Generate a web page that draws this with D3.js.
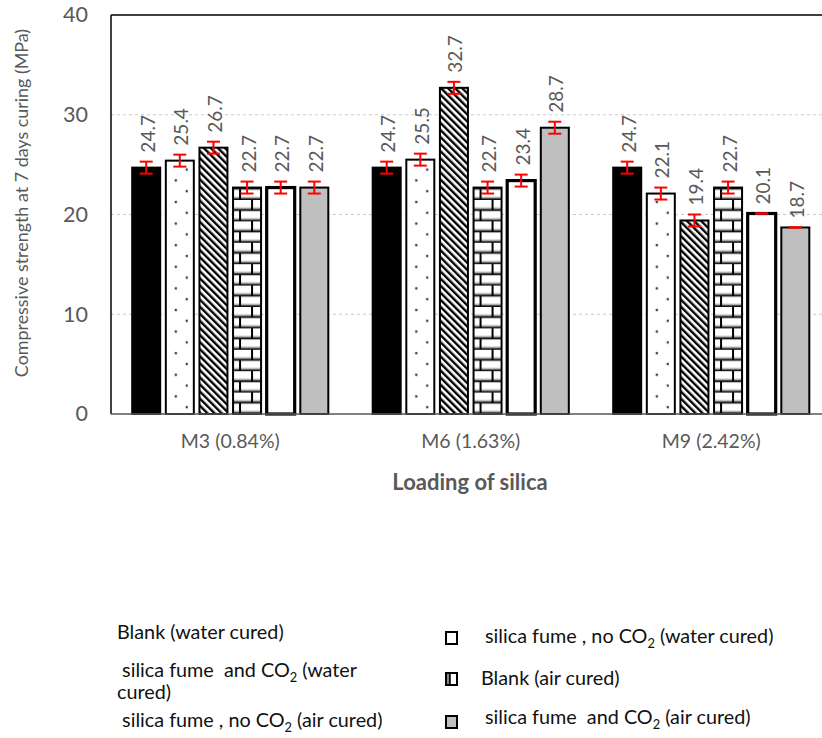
<!DOCTYPE html>
<html>
<head>
<meta charset="utf-8">
<script src="https://cdn.jsdelivr.net/npm/d3@7/dist/d3.min.js"></script>
<style>
  html, body { margin: 0; padding: 0; background: #fff; }
  svg { display: block; font-family: Lato, "Open Sans", sans-serif; }
</style>
</head>
<body>
<svg id="chart" width="822" height="738"></svg>
<script>
// Compressive strength after 7 days of curing, by silica loading
const categories = ["M3 (0.84%)", "M6 (1.63%)", "M9 (2.42%)"];
const seriesNames = [
  "Blank (water cured)",
  "silica fume , no CO2 (water cured)",
  "silica fume  and CO2 (water cured)",
  "Blank (air cured)",
  "silica fume , no CO2 (air cured)",
  "silica fume  and CO2 (air cured)"
];
// one array per series, one value per category
const blankWater   = [24.7, 24.7, 24.7];
const sfNoCO2Water = [25.4, 25.5, 22.1];
const sfCO2Water   = [26.7, 32.7, 19.4];
const blankAir     = [22.7, 22.7, 22.7];
const sfNoCO2Air   = [22.7, 23.4, 20.1];
const sfCO2Air     = [22.7, 28.7, 18.7];
// error bar half-widths
const errBlankWater   = [0.6, 0.6, 0.6];
const errSfNoCO2Water = [0.6, 0.6, 0.6];
const errSfCO2Water   = [0.6, 0.6, 0.6];
const errBlankAir     = [0.6, 0.6, 0.6];
const errSfNoCO2Air   = [0.6, 0.6, 0.0];
const errSfCO2Air     = [0.6, 0.6, 0.0];
const yTicks = [0, 10, 20, 30, 40];

const values = [blankWater, sfNoCO2Water, sfCO2Water, blankAir, sfNoCO2Air, sfCO2Air];
const errors = [errBlankWater, errSfNoCO2Water, errSfCO2Water, errBlankAir, errSfNoCO2Air, errSfCO2Air];

const svg = d3.select("#chart");
const grey = "#595959";

// plot area
const plotLeft = 111, plotTop = 15, plotBottom = 414, plotRight = 822;
const x0 = d3.scaleBand().domain(categories).range([110, 831.5]).padding(0);
const x1 = d3.scaleBand().domain(d3.range(6)).range([0, x0.bandwidth()])
  .paddingInner(0.167).paddingOuter(0.66);
const y = d3.scaleLinear().domain([0, 40]).range([plotBottom, plotTop]);

// fill patterns (aligned to each bar's bottom-left corner)
const defs = svg.append("defs");
const dots = defs.append("pattern").attr("id", "dots").attr("patternUnits", "userSpaceOnUse")
  .attr("width", 22).attr("height", 21.6).attr("y", 0);
dots.append("rect").attr("width", 22).attr("height", 21.6).attr("fill", "#fff");
dots.append("circle").attr("cx", 10).attr("cy", 4).attr("r", 1.3).attr("fill", "#404040");
dots.append("circle").attr("cx", 21).attr("cy", 14.8).attr("r", 1.3).attr("fill", "#404040");

const diag = defs.append("pattern").attr("id", "diag").attr("patternUnits", "userSpaceOnUse")
  .attr("width", 5).attr("height", 10).attr("patternTransform", "rotate(-45)");
diag.append("rect").attr("width", 5).attr("height", 10).attr("fill", "#fff");
diag.append("rect").attr("width", 2.4).attr("height", 10).attr("fill", "#000");

const brick = defs.append("pattern").attr("id", "brick").attr("patternUnits", "userSpaceOnUse")
  .attr("width", 24).attr("height", 21.4);
brick.append("rect").attr("width", 24).attr("height", 21.4).attr("fill", "#fff");
brick.append("rect").attr("x", 0).attr("y", 7.4).attr("width", 24).attr("height", 1.5).attr("fill", "#b0b0b0");
brick.append("rect").attr("x", 0).attr("y", 18.1).attr("width", 24).attr("height", 1.5).attr("fill", "#b0b0b0");
brick.append("rect").attr("x", 0).attr("y", 9).attr("width", 24).attr("height", 2).attr("fill", "#111");
brick.append("rect").attr("x", 0).attr("y", 19.7).attr("width", 24).attr("height", 2).attr("fill", "#111");
brick.append("rect").attr("x", 18).attr("y", 0).attr("width", 2).attr("height", 10.7).attr("fill", "#000");
brick.append("rect").attr("x", 6).attr("y", 10.7).attr("width", 2).attr("height", 10.7).attr("fill", "#000");

const fills = ["#000", "url(#dots)", "url(#diag)", "url(#brick)", "#fff", "#bfbfbf"];
const strokeW = [2, 2, 2, 2, 3.2, 2];

// gridlines
svg.append("g").selectAll("line").data(yTicks.filter(t => t > 0 && t < 40)).join("line")
  .attr("x1", plotLeft).attr("x2", plotRight).attr("y1", d => y(d)).attr("y2", d => y(d))
  .attr("stroke", "#c8c8c8").attr("stroke-width", 1).attr("stroke-dasharray", "3,3");

// y axis tick labels
const yAxis = d3.axisLeft(y).tickValues(yTicks).tickSize(0).tickPadding(23).tickFormat(d3.format("d"));
const ya = svg.append("g").attr("transform", `translate(${plotLeft},0)`).call(yAxis);
ya.select(".domain").remove();
ya.selectAll("text").attr("fill", grey).attr("font-size", 21.5).attr("font-family", "Lato, sans-serif");

// bars
const groups = svg.append("g").selectAll("g").data(categories).join("g")
  .attr("transform", d => `translate(${x0(d)},0)`);

groups.each(function (cat, ci) {
  const g = d3.select(this);
  values.forEach((vals, si) => {
    const v = vals[ci], e = errors[si][ci];
    const bx = x1(si), bw = x1.bandwidth();
    const bar = g.append("g").attr("transform", `translate(${bx},${y(0)})`);
    bar.append("rect")
      .attr("x", 0).attr("y", y(v) - y(0)).attr("width", bw).attr("height", y(0) - y(v))
      .attr("fill", fills[si]).attr("stroke", "#000").attr("stroke-width", strokeW[si]);
    // error bar
    const cx = bx + bw / 2;
    const eb = g.append("g").attr("stroke", "#ff0000").attr("stroke-width", 2);
    eb.append("line").attr("x1", cx).attr("x2", cx).attr("y1", y(v + e)).attr("y2", y(v - e));
    eb.append("line").attr("x1", cx - 6.5).attr("x2", cx + 6.5).attr("y1", y(v + e)).attr("y2", y(v + e));
    eb.append("line").attr("x1", cx - 6.5).attr("x2", cx + 6.5).attr("y1", y(v - e)).attr("y2", y(v - e));
    // value label
    const ly = y(v + e) - 9;
    g.append("text")
      .attr("transform", `translate(${cx + 1},${ly}) rotate(-90)`)
      .attr("dominant-baseline", "central")
      .attr("fill", grey).attr("font-size", 19)
      .text(d3.format(".1f")(v));
  });
});

// frame: top and left black, baseline grey
svg.append("line").attr("x1", plotLeft).attr("x2", plotRight).attr("y1", plotTop).attr("y2", plotTop)
  .attr("stroke", "#000").attr("stroke-width", 1.5);
svg.append("line").attr("x1", plotLeft).attr("x2", plotLeft).attr("y1", plotTop).attr("y2", plotBottom)
  .attr("stroke", "#000").attr("stroke-width", 1.5);
svg.append("line").attr("x1", plotLeft).attr("x2", plotRight).attr("y1", plotBottom).attr("y2", plotBottom)
  .attr("stroke", "#595959").attr("stroke-width", 1.5);

// category labels
const xAxis = d3.axisBottom(x0).tickSize(0).tickPadding(20);
const xa = svg.append("g").attr("transform", `translate(0,${plotBottom})`).call(xAxis);
xa.select(".domain").remove();
xa.selectAll("text").attr("fill", grey).attr("font-size", 19.5).attr("font-family", "Lato, sans-serif");

// axis titles
svg.append("text").attr("x", 470).attr("y", 490).attr("text-anchor", "middle")
  .attr("fill", grey).attr("font-size", 22).attr("font-weight", "bold").text("Loading of silica");
svg.append("text").attr("transform", "translate(21,203) rotate(-90)").attr("text-anchor", "middle")
  .attr("dominant-baseline", "central")
  .attr("fill", grey).attr("font-size", 17.9).text("Compressive strength at 7 days curing (MPa)");

// legend text with CO2 subscripts
function labelWithSub(sel, txt) {
  const parts = txt.split("CO2");
  let shift = 0;
  parts.forEach((p, i) => {
    const t = sel.append("tspan").text(p);
    if (shift) { t.attr("dy", shift); shift = 0; }
    if (i < parts.length - 1) {
      sel.append("tspan").text("CO");
      sel.append("tspan").attr("font-size", "0.65em").attr("dy", 5).text("2");
      shift = -5;
    }
  });
}
const legend = svg.append("g").attr("fill", "#111").attr("font-size", 19.8);
// left column: series 1, 3, 5
legend.append("text").attr("x", 117).attr("y", 639).text(seriesNames[0]);
labelWithSub(legend.append("text").attr("x", 117).attr("y", 677).attr("xml:space", "preserve"), " silica fume  and CO2 (water");
legend.append("text").attr("x", 117).attr("y", 699).text("cured)");
labelWithSub(legend.append("text").attr("x", 117).attr("y", 727).attr("xml:space", "preserve"), " " + seriesNames[4]);
// right column: series 2, 4, 6 with swatches
const rightItems = [
  { si: 1, sy: 632, tx: 485, ty: 643, fill: "#fff" },
  { si: 3, sy: 673, tx: 481, ty: 685, fill: "url(#swbrick)" },
  { si: 5, sy: 716, tx: 485, ty: 724, fill: "#bfbfbf" }
];
const sw = defs.append("pattern").attr("id", "swbrick").attr("patternUnits", "userSpaceOnUse")
  .attr("width", 12).attr("height", 12);
sw.append("rect").attr("width", 12).attr("height", 12).attr("fill", "#fff");
sw.append("rect").attr("x", 0).attr("y", 0).attr("width", 5).attr("height", 12).attr("fill", "#888");
sw.append("rect").attr("x", 3).attr("y", 0).attr("width", 1.5).attr("height", 12).attr("fill", "#000");
rightItems.forEach(it => {
  legend.append("g").attr("transform", `translate(446,${it.sy})`)
    .append("rect").attr("width", 11).attr("height", 12)
    .attr("fill", it.fill).attr("stroke", "#000").attr("stroke-width", 2);
  labelWithSub(legend.append("text").attr("x", it.tx).attr("y", it.ty).attr("xml:space", "preserve"), seriesNames[it.si]);
});
</script>
</body>
</html>
